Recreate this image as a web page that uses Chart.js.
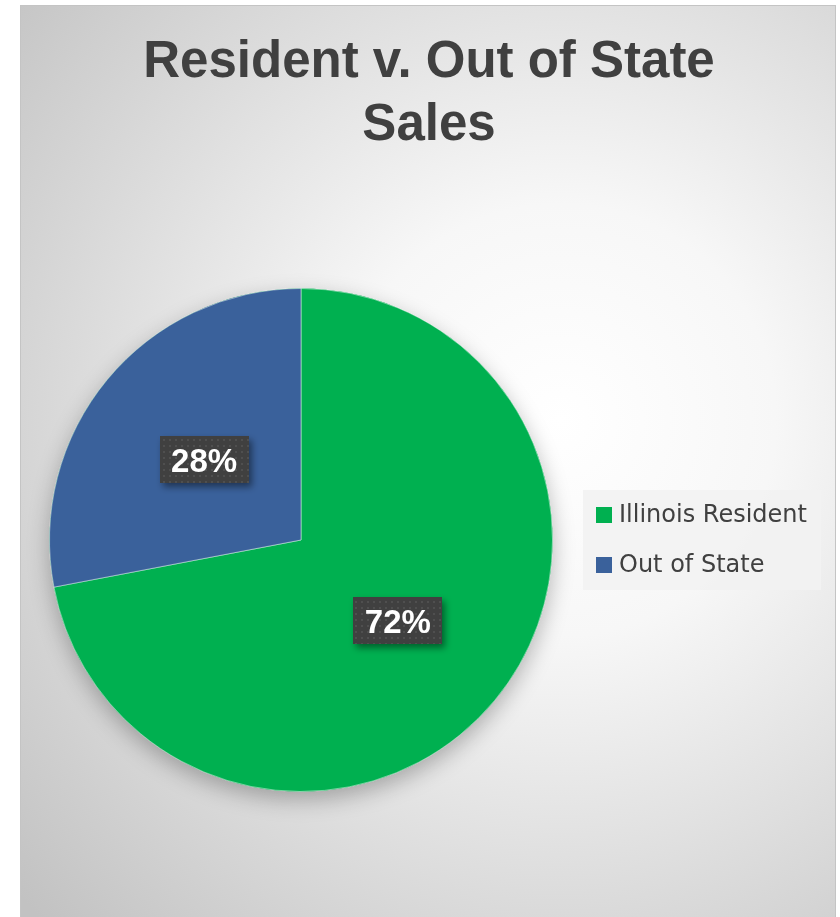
<!DOCTYPE html>
<html>
<head>
<meta charset="utf-8">
<title>Resident v. Out of State Sales</title>
<script src="https://cdn.jsdelivr.net/npm/chart.js@4.4.1/dist/chart.umd.min.js"></script>
<style>
  html, body { margin: 0; padding: 0; background: #fff; }
  #grafico { display: block; }
</style>
</head>
<body>
<canvas id="grafico" width="840" height="917"></canvas>
<script>
// dados do gráfico
const titulo = ['Resident v. Out of State', 'Sales'];
const categorias = ['Illinois Resident', 'Out of State'];
const percentuais = [72, 28];
const cores = ['#00B050', '#3A619B'];

const corTexto = '#404040';

// moldura com fundo em degradê radial
function desenharFundo(ctx) {
  const x0 = 20, y0 = 5, x1 = 835, y1 = 917;
  ctx.save();
  ctx.fillStyle = '#ffffff';
  ctx.fillRect(0, 0, 840, 917);
  const g = ctx.createRadialGradient(560, 420, 0, 560, 420, 720);
  g.addColorStop(0, '#ffffff');
  g.addColorStop(0.3, '#f7f7f7');
  g.addColorStop(1, '#c2c2c2');
  ctx.fillStyle = g;
  ctx.fillRect(x0, y0, x1 - x0, y1 - y0);
  ctx.strokeStyle = '#c4c4c4';
  ctx.lineWidth = 1;
  ctx.strokeRect(x0 + 0.5, y0 + 0.5, x1 - x0, y1 - y0 + 5);
  ctx.restore();
}

function desenharTitulo(ctx) {
  ctx.save();
  ctx.fillStyle = corTexto;
  ctx.font = 'bold 51px "Liberation Sans", Arial, sans-serif';
  ctx.textAlign = 'center';
  ctx.textBaseline = 'alphabetic';
  titulo.forEach((linha, i) => ctx.fillText(linha, 429, 77 + i * 63));
  ctx.restore();
}

// legenda em painel à direita
function desenharLegenda(chart) {
  const ctx = chart.ctx;
  const ds = chart.data.datasets[0];
  ctx.save();
  ctx.fillStyle = 'rgba(242,242,242,0.9)';
  ctx.fillRect(583, 490, 238, 100);
  ctx.font = '24px "DejaVu Sans", sans-serif';
  ctx.textBaseline = 'middle';
  ctx.textAlign = 'left';
  chart.data.labels.forEach((lbl, i) => {
    const y = 515 + i * 50;
    ctx.fillStyle = ds.backgroundColor[i];
    ctx.fillRect(596, y - 8, 16, 16);
    ctx.fillStyle = corTexto;
    ctx.fillText(lbl, 619, y + 1);
  });
  ctx.restore();
}

// padrão pontilhado das caixas de rótulo
function criarPadrao(ctx) {
  const c = document.createElement('canvas');
  c.width = 6; c.height = 6;
  const p = c.getContext('2d');
  p.fillStyle = '#404040';
  p.fillRect(0, 0, 6, 6);
  p.fillStyle = '#4f4f4f';
  p.fillRect(1, 1, 2, 2);
  return ctx.createPattern(c, 'repeat');
}

const decoracao = {
  id: 'decoracao',
  beforeDraw(chart) {
    desenharFundo(chart.ctx);
    desenharTitulo(chart.ctx);
  },
  beforeDatasetsDraw(chart) {
    // sombra suave sob a pizza
    const arco = chart.getDatasetMeta(0).data[0];
    if (!arco) return;
    const ctx = chart.ctx;
    ctx.save();
    ctx.shadowColor = 'rgba(0,0,0,0.28)';
    ctx.shadowBlur = 22;
    ctx.shadowOffsetY = 8;
    ctx.fillStyle = cores[0];
    ctx.beginPath();
    ctx.arc(arco.x, arco.y, arco.outerRadius, 0, Math.PI * 2);
    ctx.fill();
    ctx.restore();
  },
  afterDatasetsDraw(chart) {
    const ctx = chart.ctx;
    const meta = chart.getDatasetMeta(0);
    const padrao = criarPadrao(ctx);
    meta.data.forEach((arco, i) => {
      const pos = arco.getCenterPoint();
      const texto = percentuais[i] + '%';
      const w = 89, h = 47;
      const bx = Math.round(pos.x - w / 2), by = Math.round(pos.y - h / 2);
      ctx.save();
      ctx.shadowColor = 'rgba(0,0,0,0.45)';
      ctx.shadowBlur = 7;
      ctx.shadowOffsetX = 3;
      ctx.shadowOffsetY = 4;
      ctx.fillStyle = padrao;
      ctx.fillRect(bx, by, w, h);
      ctx.restore();
      ctx.save();
      ctx.fillStyle = '#ffffff';
      ctx.font = 'bold 33px "Liberation Sans", Arial, sans-serif';
      ctx.textAlign = 'center';
      ctx.textBaseline = 'alphabetic';
      ctx.fillText(texto, pos.x, by + 36);
      ctx.restore();
    });
  },
  afterDraw(chart) {
    desenharLegenda(chart);
  }
};

const ctx = document.getElementById('grafico').getContext('2d');
const chartVendas = new Chart(ctx, {
  type: 'pie',
  data: {
    labels: categorias,
    datasets: [{
      data: percentuais,
      backgroundColor: cores,
      borderColor: 'rgba(255,255,255,0.45)',
      borderWidth: 1
    }]
  },
  options: {
    responsive: false,
    animation: false,
    layout: { padding: { left: 49, right: 287, top: 288, bottom: 125 } },
    plugins: {
      legend: { display: false },
      title: { display: false },
      tooltip: { enabled: false }
    }
  },
  plugins: [decoracao]
});
</script>
</body>
</html>
